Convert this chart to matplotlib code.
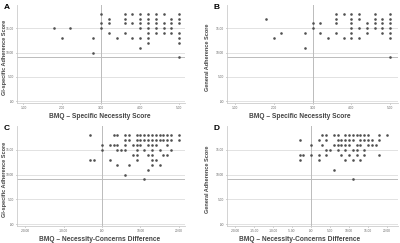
import matplotlib
matplotlib.use("Agg")
from matplotlib import pyplot as plt

plt.rcParams['font.family'] = ['Liberation Sans', 'DejaVu Sans']

# x values of the points, grouped by adherence score (y)
a_rows = {
    18: [3.0, 3.6, 3.8, 4.0, 4.2, 4.4, 4.6, 5.0],
    17: [3.2, 3.6, 4.0, 4.2, 4.4, 4.8, 5.0],
    16: [3.0, 3.2, 3.6, 3.8, 4.0, 4.2, 4.4, 4.6, 4.8, 5.0],
    15: [1.8, 2.2, 3.0, 4.0, 4.2, 4.4, 4.6, 4.8],
    14: [3.2, 3.6, 4.2, 4.4, 4.6, 4.8, 5.0],
    13: [2.0, 2.8, 3.4, 3.8, 4.0, 4.2, 5.0],
    12: [4.2, 5.0],
    11: [4.0],
    10: [2.8],
    9: [5.0],
}
b_rows = {
    18: [3.6, 3.8, 4.0, 4.2, 4.6, 5.0],
    17: [1.8, 3.6, 4.0, 4.2, 4.6, 4.8, 5.0],
    16: [3.0, 3.2, 3.6, 4.0, 4.4, 4.6, 4.8, 5.0],
    15: [3.0, 4.0, 4.2, 4.4, 4.6, 4.8, 5.0],
    14: [2.2, 2.8, 3.2, 3.6, 4.0, 4.4, 4.8, 5.0],
    13: [2.0, 3.4, 3.8, 4.0, 4.2, 5.0],
    11: [2.8],
    9: [5.0],
}
c_rows = {
    18: [-3, 3, 4, 6, 7, 9, 10, 11, 12, 13, 14, 15, 16, 17, 18, 20],
    17: [6, 7, 9, 10, 11, 12, 13, 14, 15, 16, 17, 18, 20],
    16: [0, 2, 3, 4, 6, 8, 9, 10, 12, 13, 14, 17],
    15: [0, 4, 5, 6, 9, 11, 13, 15, 18],
    14: [8, 9, 12, 13, 16, 17],
    13: [-3, -2, 2, 9, 13, 14],
    12: [4, 7, 13, 15],
    11: [12],
    10: [6],
    9: [11],
}
d_rows = {
    18: [3, 4, 6, 7, 9, 10, 11, 12, 13, 14, 15, 18, 20],
    17: [-3, 2, 4, 7, 8, 9, 10, 11, 13, 14, 15, 16, 18],
    16: [0, 3, 6, 7, 8, 9, 10, 12, 13, 15, 16, 17],
    15: [4, 5, 7, 9, 11, 12, 14],
    14: [-3, -2, 0, 2, 4, 8, 10, 12, 14, 18],
    13: [-3, 2, 9, 11, 13],
    11: [6],
    9: [11],
}

nec_ticks = [1, 2, 3, 4, 5]
diff_ticks_c = [-20, -10, 0, 10, 20]
diff_ticks_d = [-20, -15, -10, -5, 0, 5, 10, 15, 20]
y_ticks = [0, 5, 10, 15]
ref_y = 9


def fmt(v):
    s = '%.2f' % v
    return s[1:] if s.startswith('0') else s


W, H = 400, 243
# letter, data, axes box (px: left, top, right, bottom), xlim, ticks, ref x,
# x label, y label, y label centre x (px), x label centre x (px)
panels = [
    ('A', a_rows, (16.7, 5, 185, 103), (0.83, 5.15), nec_ticks, 3,
     'BMQ \u2013 Specific Necessity Score', 'GI-specific Adherence Score', 4.3, 100),
    ('B', b_rows, (226.7, 5, 398, 103), (0.79, 5.2), nec_ticks, 3,
     'BMQ \u2013 Specific Necessity Score', 'General Adherence Score', 207.5, 300),
    ('C', c_rows, (16.7, 126, 185, 226), (-22.2, 21.6), diff_ticks_c, 0,
     'BMQ \u2013 Necessity-Concerns Difference', 'GI-specific Adherence Score', 4.3, 100),
    ('D', d_rows, (226.7, 126, 398, 226), (-22.2, 22.9), diff_ticks_d, 0,
     'BMQ \u2013 Necessity-Concerns Difference', 'General Adherence Score', 207.5, 300),
]

fig = plt.figure(figsize=(4, 2.43), dpi=100)
for letter, rows, (l, t, r, b), xlim, xt, ref_x, xlab, ylab, ylx, xlx in panels:
    ax = fig.add_axes([l / W, 1 - b / H, (r - l) / W, (b - t) / H])
    xs, ys = [], []
    for yv, xv in rows.items():
        xs += xv
        ys += [yv] * len(xv)
    for yv in y_ticks:
        ax.axhline(yv, color='#dddddd', lw=0.6, zorder=0)
    ax.axhline(ref_y, color='#bbbbbb', lw=0.7, zorder=1)
    ax.axvline(ref_x, color='#bbbbbb', lw=0.7, zorder=1)
    ax.scatter(xs, ys, s=3.5, color='#505050', marker='o', linewidths=0, zorder=3)
    ax.set_xlim(*xlim)
    ax.set_ylim(-0.4, 19.8)
    ax.set_xticks(xt)
    ax.set_xticklabels([fmt(v) for v in xt])
    ax.set_yticks(y_ticks)
    ax.set_yticklabels([fmt(v) for v in y_ticks])
    ax.tick_params(labelsize=2.3, length=1, width=0.4, colors='#666666', pad=1.2)
    for s in ['top', 'right']:
        ax.spines[s].set_visible(False)
    for s in ['left', 'bottom']:
        ax.spines[s].set_color('#cccccc')
        ax.spines[s].set_linewidth(0.6)
    w, h = r - l, b - t
    ax.set_xlabel(xlab, fontsize=4.8, fontweight='bold', color='#444444', va='center')
    ax.xaxis.set_label_coords((xlx - l) / w, -13.5 / h)
    ax.set_ylabel(ylab, fontsize=4.0, fontweight='bold', color='#444444', va='center')
    ax.yaxis.set_label_coords((ylx - l) / w, 0.47)
    fig.text((l - 13) / W, 1 - (t - 1) / H, letter, fontsize=6, fontweight='bold',
             va='top', ha='left')

fig.savefig('out.png', dpi=100)
